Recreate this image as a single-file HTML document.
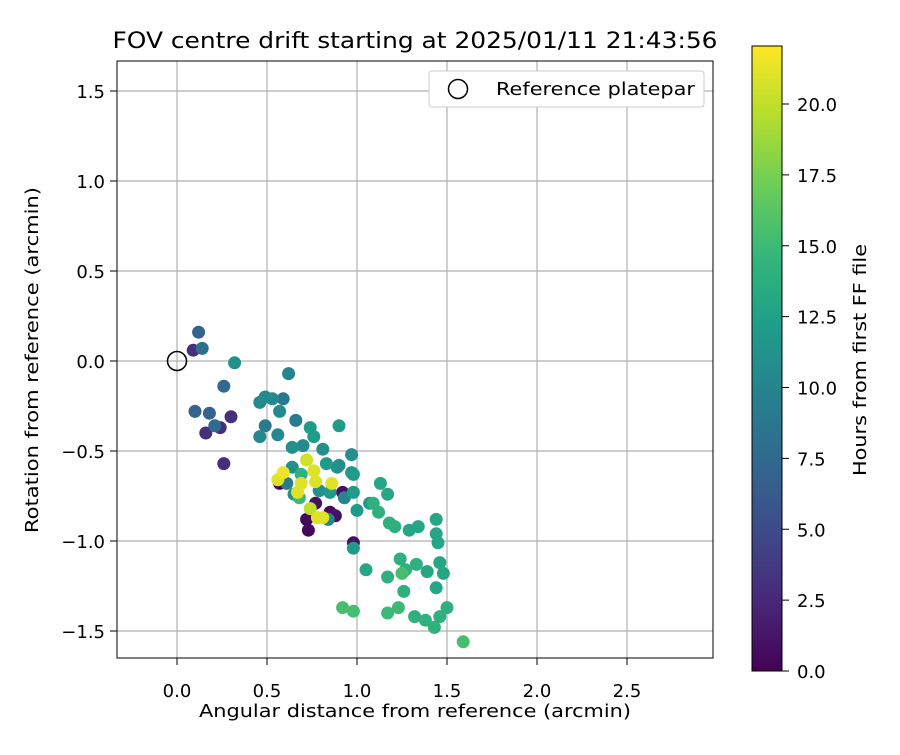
<!DOCTYPE html>
<html><head><meta charset="utf-8"><style>
body{margin:0;background:#fff}
svg text{font-family:"DejaVu Sans","Liberation Sans",sans-serif;fill:#000}
</style></head><body>
<svg id="s" width="900" height="750" xmlns="http://www.w3.org/2000/svg">
<rect width="900" height="750" fill="#fff"/>
<g id="grid"></g>
<g id="pts"></g>
<rect x="117" y="61" width="596" height="597" fill="none" stroke="#000" stroke-width="1"/>
<g id="axes"></g>
<text x="415" y="48" font-size="22" text-anchor="middle" textLength="605" lengthAdjust="spacingAndGlyphs">FOV centre drift starting at 2025/01/11 21:43:56</text>
<text x="415" y="717" font-size="18" text-anchor="middle" textLength="432" lengthAdjust="spacingAndGlyphs">Angular distance from reference (arcmin)</text>
<text x="38" y="360" font-size="18" text-anchor="middle" transform="rotate(-90 38 360)" textLength="346" lengthAdjust="spacingAndGlyphs">Rotation from reference (arcmin)</text>
<g>
<rect x="429" y="71" width="275" height="36" rx="3" fill="#fff" stroke="#ccc"/>
<circle cx="458" cy="89" r="9.5" fill="none" stroke="#000" stroke-width="1.5"/>
<text x="496" y="95" font-size="18" textLength="199" lengthAdjust="spacingAndGlyphs">Reference platepar</text>
</g>
<defs><linearGradient id="vg" x1="0" y1="1" x2="0" y2="0"></linearGradient></defs>
<rect x="752" y="46" width="30" height="625" fill="url(#vg)" stroke="#000" stroke-width="1"/>
<g id="cb"></g>
<text x="866" y="360" font-size="18" text-anchor="middle" transform="rotate(-90 866 360)" textLength="232" lengthAdjust="spacingAndGlyphs">Hours from first FF file</text>
</svg>
<script>
const xs=[0.12,0.09,0.14,0.32,0.26,0.62,0.10,0.18,0.21,0.24,0.30,0.16,0.26,0.46,0.49,0.53,0.59,0.57,0.66,0.49,0.46,0.56,0.74,0.76,0.90,0.64,0.70,0.81,0.97,0.72,0.64,0.76,0.59,0.56,0.89,0.83,0.98,0.69,0.69,0.77,0.86,0.61,0.57,0.67,0.68,0.65,0.79,0.85,0.92,0.98,0.93,0.77,0.74,0.78,0.81,0.85,0.88,0.84,0.72,0.73,1.00,1.07,0.98,0.97,0.90,1.13,1.17,1.09,1.12,1.18,1.21,1.29,1.34,1.44,1.44,1.45,0.98,1.05,1.24,1.27,1.33,1.39,1.46,1.48,1.17,1.25,1.26,1.44,0.92,0.98,1.17,1.23,1.32,1.38,1.43,1.46,1.50,1.59];
const ys=[0.16,0.06,0.07,-0.01,-0.14,-0.07,-0.28,-0.29,-0.36,-0.37,-0.31,-0.40,-0.57,-0.23,-0.20,-0.21,-0.21,-0.28,-0.33,-0.36,-0.42,-0.41,-0.37,-0.42,-0.36,-0.48,-0.47,-0.49,-0.52,-0.55,-0.59,-0.61,-0.62,-0.66,-0.59,-0.57,-0.63,-0.63,-0.68,-0.67,-0.68,-0.68,-0.68,-0.73,-0.76,-0.74,-0.72,-0.73,-0.73,-0.73,-0.76,-0.79,-0.82,-0.87,-0.87,-0.84,-0.86,-0.88,-0.88,-0.94,-0.83,-0.79,-1.01,-0.62,-0.58,-0.68,-0.74,-0.79,-0.84,-0.90,-0.92,-0.94,-0.92,-0.88,-0.96,-1.01,-1.04,-1.16,-1.10,-1.16,-1.13,-1.17,-1.12,-1.18,-1.20,-1.18,-1.28,-1.26,-1.37,-1.39,-1.40,-1.37,-1.42,-1.44,-1.48,-1.42,-1.37,-1.56];
const hours=[7,3,8,11,7.5,10,7,7,7.5,3,3,3,3,10.5,10.5,10.5,9,10.5,9,9,10.5,10.5,12,12,12,11,10.5,11,11,20.5,11,21,21.5,21,11,12,12,14,21,21,21,9,0.5,21,15,11,11,12,1,12,10,1,20,21,21,0.5,1,10,0.5,0.5,12,12,1,12,11,13,13,14,14,14,14,13,13,13,13,13,12,13,14,14,14,13,13,13,14,15.5,14,13,15.5,15.5,15,15,14,14,14,14,14,15.5];
const xTicks=[0.0,0.5,1.0,1.5,2.0,2.5];
const yTicks=[-1.5,-1.0,-0.5,0.0,0.5,1.0,1.5];
const cTicks=[0.0,2.5,5.0,7.5,10.0,12.5,15.0,17.5,20.0];
const X=v=>177+v*180, Y=v=>361-v*180, C=v=>671-v*(567/20), HMAX=22.05;
const vir=[[68,1,84],[72,40,120],[62,74,137],[49,104,142],[38,130,142],[31,158,137],[53,183,121],[109,205,89],[180,222,44],[253,231,37]];
function col(t){t=Math.max(0,Math.min(1,t));const f=t*9,i=Math.min(8,Math.floor(f)),r=f-i;const a=vir[i],b=vir[i+1];return 'rgb('+a.map((v,k)=>Math.round(v+(b[k]-v)*r)).join(',')+')';}
const NS='http://www.w3.org/2000/svg';
function mk(t,at,p){const e=document.createElementNS(NS,t);for(const k in at)e.setAttribute(k,at[k]);p.appendChild(e);return e;}
const g=document.getElementById('grid'),ax=document.getElementById('axes');
const fmt=v=>(v<0?'\u2212':'')+Math.abs(v).toFixed(1);
xTicks.forEach(v=>{const l=mk('line',{x1:X(v),x2:X(v),y1:61,y2:658,stroke:'#b0b0b0','stroke-width':1.2},g);

const tk=mk('line',{x1:X(v),x2:X(v),y1:658,y2:665,stroke:'#000'},ax);
const t=mk('text',{x:X(v),y:697,'font-size':18,'text-anchor':'middle'},ax);t.textContent=fmt(v);
});
yTicks.forEach(v=>{const l=mk('line',{x1:117,x2:713,y1:Y(v),y2:Y(v),stroke:'#b0b0b0','stroke-width':1.2},g);

const tk=mk('line',{x1:110,x2:117,y1:Y(v),y2:Y(v),stroke:'#000'},ax);
const t=mk('text',{x:105,y:Y(v)+7,'font-size':18,'text-anchor':'end'},ax);t.textContent=fmt(v);
});
const pts=document.getElementById('pts');
const idx=hours.map((h,i)=>i).sort((a,b)=>hours[a]-hours[b]);
idx.forEach(i=>{const c=mk('circle',{cx:X(xs[i]),cy:Y(ys[i]),r:6.5,fill:col(hours[i]/HMAX)},pts);
});
const ref=mk('circle',{cx:X(0),cy:Y(0),r:9.5,fill:'none',stroke:'#000','stroke-width':1.5},pts);

const vg=document.getElementById('vg');
vir.forEach((c,i)=>{const s=mk('stop',{offset:(i/9*100)+'%','stop-color':'rgb('+c.join(',')+')'},vg);
});
const cb=document.getElementById('cb');
cTicks.forEach(v=>{const tk=mk('line',{x1:782,x2:789,y1:C(v),y2:C(v),stroke:'#000'},cb);

const t=mk('text',{x:797,y:C(v)+7,'font-size':18},cb);t.textContent=v.toFixed(1);
});
</script>
</body></html>
